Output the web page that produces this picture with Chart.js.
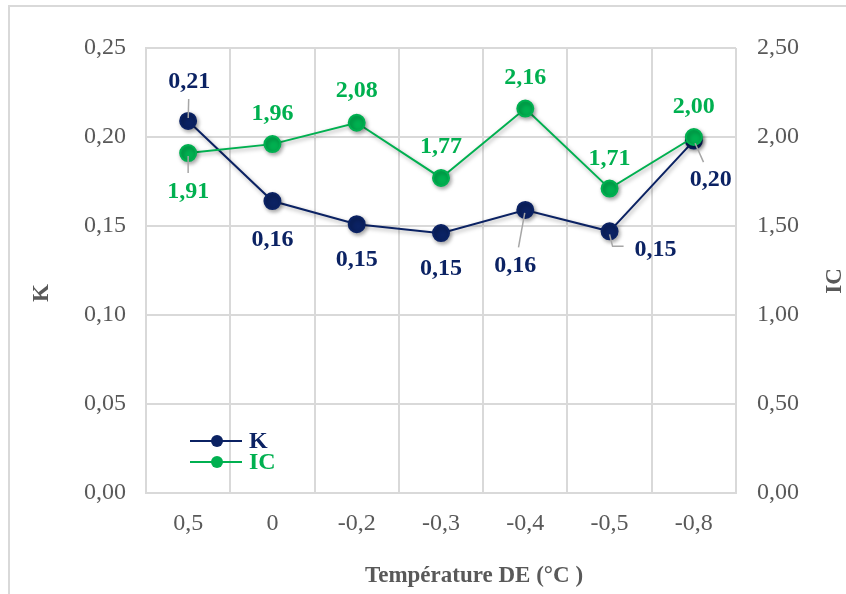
<!DOCTYPE html>
<html>
<head>
<meta charset="utf-8">
<script src="https://cdn.jsdelivr.net/npm/chart.js@4.4.1/dist/chart.umd.min.js"></script>
<style>
	html, body { margin: 0; padding: 0; background: #fff; overflow: hidden; }
	#frame { position: absolute; left: 8px; top: 5px; width: 900px; height: 700px; border: 2px solid #d9d9d9; }
	#wrap { position: absolute; left: 0; top: 0; width: 846px; height: 594px; }
</style>
</head>
<body>
<div id="frame"></div>
<div id="wrap"><canvas id="chart" width="846" height="594"></canvas></div>
<script>
	var categories = ['0,5', '0', '-0,2', '-0,3', '-0,4', '-0,5', '-0,8'];
	var kValues = [0.209, 0.164, 0.151, 0.146, 0.159, 0.147, 0.198];
	var icValues = [1.91, 1.96, 2.08, 1.77, 2.16, 1.71, 2.00];
	var kTicks = [0, 0.05, 0.10, 0.15, 0.20, 0.25];
	var icTicks = [0, 0.5, 1.0, 1.5, 2.0, 2.5];

	var navy = '#0b2263';
	var green = '#00b050';
	var grey = '#595959';
	var serif = "'Liberation Serif', 'Times New Roman', serif";

	function comma(v) {
		return v.toFixed(2).replace('.', ',');
	}

	/* label offsets (dx, dy) from each point, and whether a leader line is drawn */
	var kLabelPos = [[1, -40, 1], [0, 38, 0], [0, 35, 0], [0, 35, 0], [-10, 55, 1], [46, 17, 2], [17, 38, 1]];
	var icLabelPos = [[0, 38, 1], [0, -31, 0], [0, -33, 0], [0, -32, 0], [0, -32, 0], [0, -31, 0], [0, -31, 0]];

	/* shadow under the series */
	var shadowPlugin = {
		id: 'shadow',
		beforeDatasetDraw: function (chart) {
			var ctx = chart.ctx;
			ctx.save();
			ctx.shadowColor = 'rgba(0,0,0,0.35)';
			ctx.shadowBlur = 4;
			ctx.shadowOffsetX = 1.5;
			ctx.shadowOffsetY = 2;
		},
		afterDatasetDraw: function (chart) {
			chart.ctx.restore();
		}
	};

	/* data labels, legend and axis titles */
	var decorPlugin = {
		id: 'decor',
		afterDatasetsDraw: function (chart) {
			var ctx = chart.ctx;
			var area = chart.chartArea;
			ctx.save();
			ctx.font = 'bold 24px ' + serif;
			ctx.textAlign = 'center';
			ctx.textBaseline = 'middle';

			var sets = [[0, kValues, kLabelPos, navy], [1, icValues, icLabelPos, green]];
			sets.forEach(function (s) {
				var meta = chart.getDatasetMeta(s[0]);
				meta.data.forEach(function (pt, i) {
					var p = s[2][i];
					var lx = pt.x + p[0], ly = pt.y + p[1];
					if (p[2]) {
						ctx.strokeStyle = '#a6a6a6';
						ctx.lineWidth = 1.5;
						ctx.beginPath();
						if (p[2] === 2) {
							ctx.moveTo(pt.x, pt.y + 3);
							ctx.lineTo(pt.x + 3, pt.y + 15);
							ctx.lineTo(lx - 32, pt.y + 15);
						} else {
							var dx = lx - pt.x, dy = ly - pt.y;
							var len = Math.sqrt(dx * dx + dy * dy);
							ctx.moveTo(pt.x + dx / len * 3, pt.y + dy / len * 3);
							ctx.lineTo(lx - dx / len * 18, ly - dy / len * 18);
						}
						ctx.stroke();
					}
					ctx.fillStyle = s[3];
					ctx.fillText(comma(s[1][i]), lx, ly + 1);
				});
			});

			/* legend */
			var lg = [['K', navy, 441], ['IC', green, 462]];
			lg.forEach(function (l) {
				ctx.strokeStyle = l[1];
				ctx.lineWidth = 2;
				ctx.beginPath();
				ctx.moveTo(area.left + 44, l[2]);
				ctx.lineTo(area.left + 96, l[2]);
				ctx.stroke();
				ctx.fillStyle = l[1];
				ctx.beginPath();
				ctx.arc(area.left + 71, l[2], 6, 0, Math.PI * 2);
				ctx.fill();
				ctx.textAlign = 'left';
				ctx.fillText(l[0], area.left + 103, l[2] + 1);
			});

			/* axis titles */
			ctx.fillStyle = grey;
			ctx.textAlign = 'center';
			ctx.font = 'bold 23px ' + serif;
			ctx.fillText('Température DE (°C )', 474, 576);
			ctx.save();
			ctx.translate(42, 293);
			ctx.rotate(-Math.PI / 2);
			ctx.fillText('K', 0, 0);
			ctx.restore();
			ctx.save();
			ctx.translate(835, 281);
			ctx.rotate(-Math.PI / 2);
			ctx.fillText('IC', 0, 0);
			ctx.restore();
			ctx.restore();
		}
	};

	var ctx = document.getElementById('chart').getContext('2d');
	var myChart = new Chart(ctx, {
		type: 'line',
		data: {
			labels: categories,
			datasets: [{
				label: 'K',
				data: kValues,
				yAxisID: 'y',
				order: 1,
				borderColor: navy,
				backgroundColor: navy,
				pointBackgroundColor: navy,
				pointBorderColor: navy,
				pointRadius: 8,
				pointHoverRadius: 8,
				borderWidth: 2,
				tension: 0
			}, {
				label: 'IC',
				data: icValues,
				yAxisID: 'y1',
				order: 0,
				borderColor: green,
				backgroundColor: green,
				pointBackgroundColor: green,
				pointBorderColor: green,
				pointRadius: 8,
				pointHoverRadius: 8,
				borderWidth: 2,
				tension: 0
			}]
		},
		options: {
			responsive: false,
			animation: false,
			layout: {
				padding: { top: 48, left: 0, right: 0, bottom: 0 }
			},
			scales: {
				x: {
					offset: true,
					grid: { color: '#d9d9d9', lineWidth: 2, drawTicks: false, offset: true },
					border: { color: '#d9d9d9', width: 2 },
					ticks: {
						color: grey,
						font: { family: serif, size: 24 },
						padding: 16,
						maxRotation: 0
					},
					afterFit: function (scale) { scale.height = 101; }
				},
				y: {
					position: 'left',
					min: 0,
					max: 0.25,
					afterBuildTicks: function (scale) {
						scale.ticks = kTicks.map(function (v) { return { value: v }; });
					},
					grid: { color: '#d9d9d9', lineWidth: 2, drawTicks: false },
					border: { color: '#d9d9d9', width: 2 },
					ticks: {
						color: grey,
						font: { family: serif, size: 24 },
						padding: 20,
						callback: function (v) { return comma(v); }
					},
					afterFit: function (scale) { scale.width = 146; }
				},
				y1: {
					position: 'right',
					min: 0,
					max: 2.5,
					afterBuildTicks: function (scale) {
						scale.ticks = icTicks.map(function (v) { return { value: v }; });
					},
					grid: { display: false, drawTicks: false },
					border: { display: false },
					ticks: {
						color: grey,
						font: { family: serif, size: 24 },
						padding: 21,
						callback: function (v) { return comma(v); }
					},
					afterFit: function (scale) { scale.width = 110; }
				}
			},
			plugins: {
				legend: { display: false },
				tooltip: { enabled: false }
			}
		},
		plugins: [shadowPlugin, decorPlugin]
	});
</script>
</body>
</html>
